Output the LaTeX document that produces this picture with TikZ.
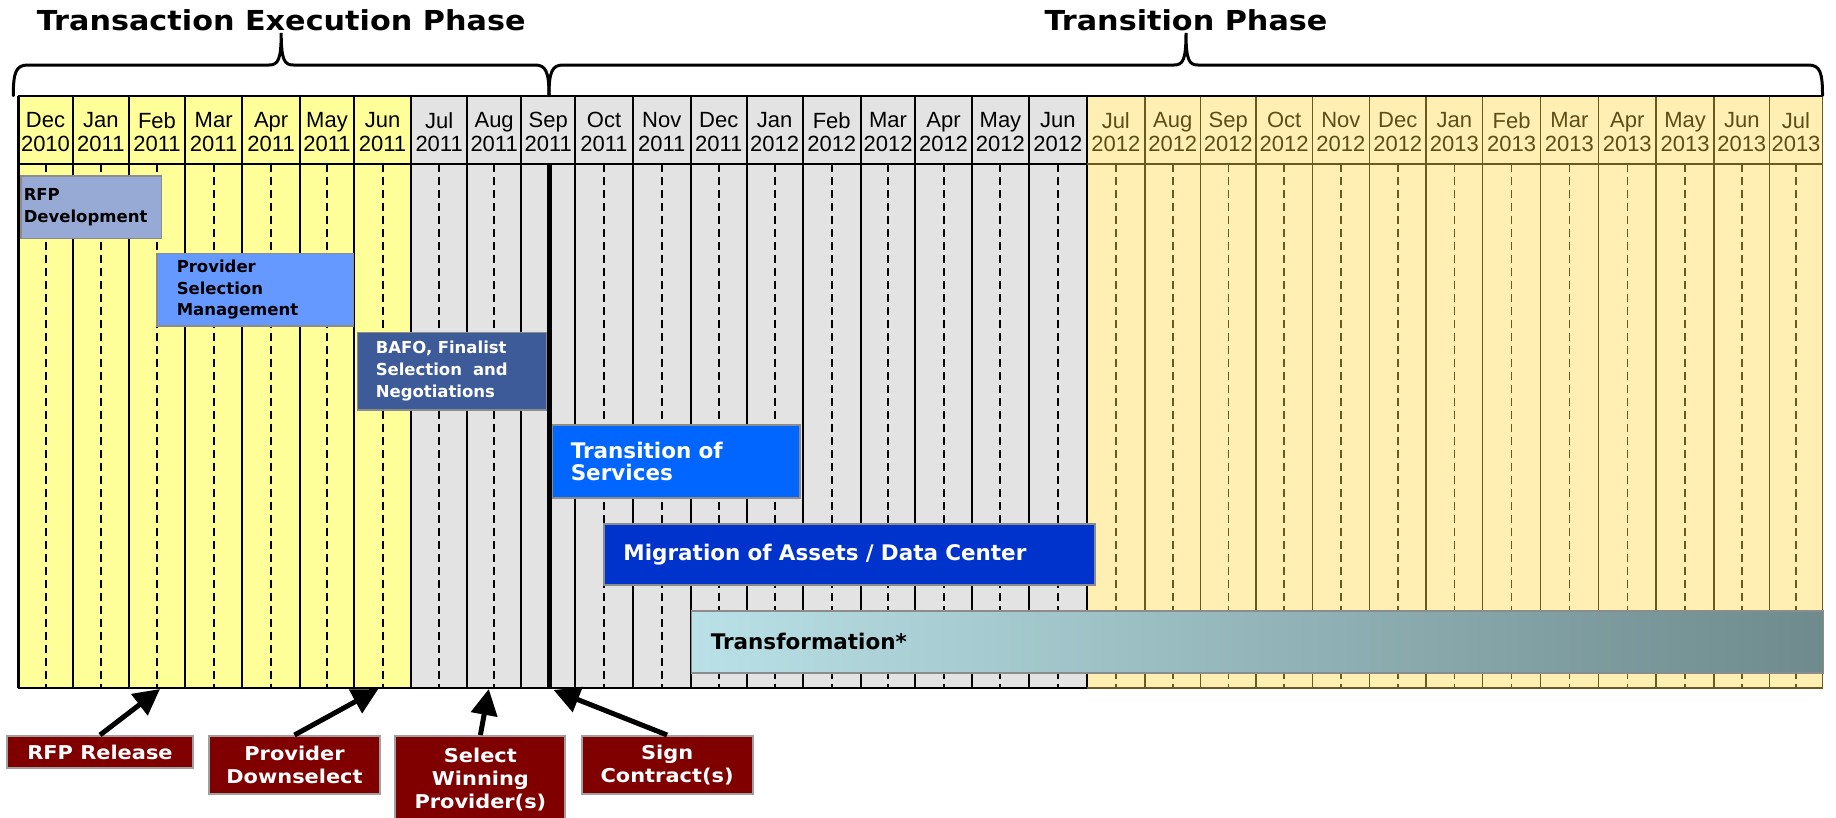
\documentclass[tikz,border=0pt]{standalone}
\usepackage{fontspec}
\setmainfont{Liberation Sans}
\newfontfamily\phasefont{DejaVu Sans}
\newfontfamily\widefont[FakeStretch=1.1]{DejaVu Sans}
\usetikzlibrary{arrows.meta}

\definecolor{colyellow}{HTML}{FFFF99}
\definecolor{colgray}{HTML}{E3E3E3}
\definecolor{colbeige}{HTML}{FFEFB3}
\definecolor{beigeline}{HTML}{6B5A20}
\definecolor{beigetext}{HTML}{5E4D16}
\definecolor{rfpblue}{HTML}{97AAD6}
\definecolor{selblue}{HTML}{6699FF}
\definecolor{bafoblue}{HTML}{3D5A99}
\definecolor{transblue}{HTML}{0066FF}
\definecolor{migblue}{HTML}{0033CC}
\definecolor{trleft}{HTML}{B9E1E7}
\definecolor{trmid}{HTML}{9EC3C6}
\definecolor{trright}{HTML}{6E8A8C}
\definecolor{milered}{HTML}{800000}
\definecolor{boxgray}{HTML}{8C8C8C}
\definecolor{milegray}{HTML}{A0A0A0}

\tikzset{
    month/.style={align=center, inner sep=0pt, font=\fontsize{22}{23.4}\selectfont},
    colline/.style={line width=2pt},
    dashline/.style={line width=2pt, dash pattern=on 8pt off 5pt},
    phasebox/.style={draw=boxgray, line width=1.5pt, anchor=north west, align=left, inner ysep=0pt,
        font=\phasefont\bfseries\fontsize{16.5}{21.8}\selectfont},
    bigbox/.style={phasebox, text=white, font=\phasefont\bfseries\fontsize{21.5}{22.4}\selectfont},
    milestone/.style={fill=milered, draw=milegray, line width=2pt, anchor=north, align=center, text=white,
        font=\widefont\bfseries\fontsize{19}{23}\selectfont},
    milearrow/.style={line width=5pt, -{Triangle[length=26pt, width=26pt]}},
    phasebrace/.style={line width=3pt, line cap=round},
    title/.style={anchor=base, inner sep=0pt, font=\widefont\bfseries\fontsize{27.5}{30}\selectfont}
}

\begin{document}
\begin{tikzpicture}[x=1pt, y=-1pt]
        \useasboundingbox (0,0) rectangle (1836,817);

        %columns
        \fill[colyellow] (18.3,95.7) rectangle (411,688);
        \fill[colgray] (411,95.7) rectangle (1086.6,688);
        \fill[colbeige] (1086.6,95.7) rectangle (1822.5,688);
        \foreach \l/\r/\m/\y in {18.3/72.7/Dec/2010, 72.7/129/Jan/2011, 129/185/Feb/2011, 185/242.3/Mar/2011,
            242.3/300/Apr/2011, 300/354/May/2011, 354/411/Jun/2011, 411/467.3/Jul/2011, 467.3/521/Aug/2011,
            521/575.4/Sep/2011, 575.4/632.7/Oct/2011, 632.7/690.8/Nov/2011, 690.8/746.6/Dec/2011,
            746.6/802.7/Jan/2012, 802.7/860.8/Feb/2012, 860.8/915.4/Mar/2012, 915.4/971.6/Apr/2012,
            971.6/1029.3/May/2012, 1029.3/1086.6/Jun/2012}{
            \draw[dashline] ({(\l+\r)/2},164) -- ({(\l+\r)/2},688);
            \draw[colline] (\r,95.7) -- (\r,688);
            \node[month] (m\m\y) at ({(\l+\r)/2},132) {\m\\\y};
        }
        \foreach \l/\r/\m/\y in {1086.6/1145/Jul/2012, 1145/1200.5/Aug/2012, 1200.5/1256/Sep/2012,
            1256/1312.4/Oct/2012, 1312.4/1369.3/Nov/2012, 1369.3/1426.2/Dec/2012, 1426.2/1482.6/Jan/2013,
            1482.6/1540.5/Feb/2013, 1540.5/1598.3/Mar/2013, 1598.3/1656.2/Apr/2013, 1656.2/1714/May/2013,
            1714/1769.5/Jun/2013, 1769.5/1822.5/Jul/2013}{
            \draw[dashline, beigeline, line width=1.5pt] ({(\l+\r)/2},164) -- ({(\l+\r)/2},688);
            \draw[colline, beigeline, line width=1.5pt] (\r,95.7) -- (\r,688);
            \node[month, text=beigetext] (m\m\y) at ({(\l+\r)/2},132) {\m\\\y};
        }

        %grid frame
        \draw[colline] (18.3,95.7) -- (1822.5,95.7);
        \draw[colline] (18.3,164) -- (1086.6,164);
        \draw[colline, beigeline] (1086.6,164) -- (1822.5,164);
        \draw[colline] (18.3,688) -- (1086.6,688);
        \draw[colline, beigeline] (1086.6,688) -- (1822.5,688);
        \draw[line width=2.5pt] (18.3,95.7) -- (18.3,688);
        \draw[line width=5pt] (549,164) -- (549,688);

        %braces and titles
        \draw[phasebrace] (13.3,95.7) .. controls (13.3,72) and (16,65) .. (28,65) -- (269,65)
            .. controls (278,65) and (281.2,60) .. (281.2,33) .. controls (281.2,60) and (284.4,65) .. (293.4,65)
            -- (535,65) .. controls (546,65) and (549,72) .. (549,95.7);
        \draw[phasebrace] (549,95.7) .. controls (549,72) and (552,65) .. (563,65) -- (1174,65)
            .. controls (1183,65) and (1186,60) .. (1186,33) .. controls (1186,60) and (1189,65) .. (1198,65)
            -- (1808,65) .. controls (1820,65) and (1822.5,72) .. (1822.5,95.7);
        \node[title] (tep) at (281.2,30) {Transaction Execution Phase};
        \node[title] (tp) at (1186,30) {Transition Phase};

        %phase bars
        \node[phasebox, fill=rfpblue, inner xsep=3pt, minimum width=140.7pt, minimum height=62.7pt,
            text width=134.7pt] (rfpdev) at (20,175) {RFP\\Development};
        \node[phasebox, fill=selblue, inner xsep=20pt, minimum width=196.7pt, minimum height=72.3pt,
            text width=156.7pt] (psm) at (156,252.7) {Provider\\Selection\\Management};
        \node[phasebox, fill=bafoblue, text=white, inner xsep=18.3pt, minimum width=189pt, minimum height=77.6pt,
            text width=152.4pt] (bafo) at (356.7,331.7) {BAFO, Finalist\\Selection\ \ and\\Negotiations};
        \node[bigbox, fill=transblue, inner xsep=18.3pt, minimum width=247.3pt, minimum height=73pt,
            text width=210.7pt] (tos) at (551.7,424.3) {Transition of\\Services};
        \node[bigbox, fill=migblue, inner xsep=19.4pt, minimum width=490.7pt, minimum height=61pt,
            text width=451.9pt] (mig) at (603.3,523.3) {Migration of Assets / Data Center};
        \node[bigbox, text=black, left color=trleft, middle color=trmid, right color=trright, inner xsep=19.3pt,
            minimum width=1131.8pt, minimum height=62.3pt, text width=1093.2pt] (trans) at (690.7,610) {Transformation*};

        %milestones
        \node[milestone, minimum width=186.6pt, minimum height=32.3pt] (rfprel) at (100,735) {RFP Release};
        \node[milestone, minimum width=171pt, minimum height=57.7pt] (pds) at (294.5,735) {Provider\\Downselect};
        \node[milestone, minimum width=170pt, minimum height=88pt] (swp) at (480.4,735) {Select\\Winning\\Provider(s)};
        \node[milestone, minimum width=171pt, minimum height=57.7pt] (sgc) at (667.1,735) {Sign\\Contract(s)};

        \coordinate (rfptip) at (160,689);
        \coordinate (pdtip) at (378.3,689);
        \coordinate (swtip) at (488.8,689);
        \coordinate (sctip) at (553.6,690);
        \draw[milearrow] (rfprel.north) -- (rfptip);
        \draw[milearrow] (pds.north) -- (pdtip);
        \draw[milearrow] (swp.north) -- (swtip);
        \draw[milearrow] (sgc.north) -- (sctip);
    \end{tikzpicture}
\end{document}
